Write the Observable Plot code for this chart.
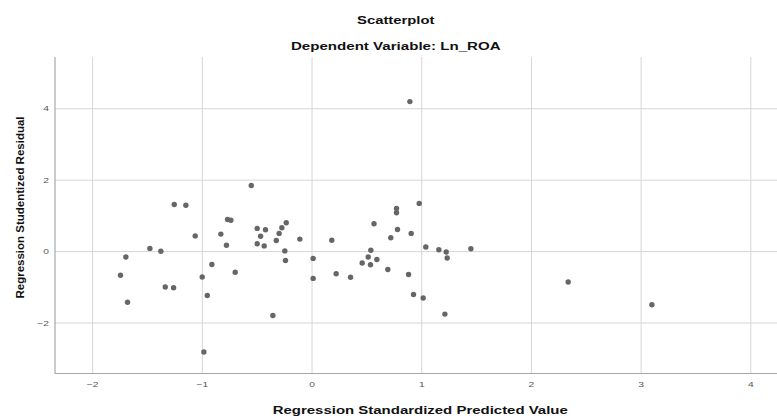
<!DOCTYPE html>
<html>
<head>
<meta charset="utf-8">
<script src="https://cdn.jsdelivr.net/npm/d3@7"></script>
<script src="https://cdn.jsdelivr.net/npm/@observablehq/plot@0.6"></script>
<style>
  html, body { margin: 0; padding: 0; background: #fff; }
  #chart { width: 777px; height: 418px; }
</style>
</head>
<body>
<div id="chart"></div>
<script>
// Regression Standardized Predicted Value
const predicted = [
  -0.554, -1.256, -1.150, -0.770, -0.740, -0.500, -0.424, -1.065, -0.831, -0.780,
  -0.469, -0.500, -0.436, -0.326, -1.478, -1.378, -1.697, -1.746, -0.913, -1.001,
  -0.700, -1.338, -1.262, -0.955, -1.682, -0.357, -0.986, -0.235, -0.275, -0.300,
  -0.111, -0.248, -0.242, 0.010, 0.010, 0.180, 0.220, 0.351, 0.565, 0.536,
  0.512, 0.457, 0.533, 0.591, 0.892, 0.977, 0.770, 0.770, 0.779, 0.904,
  0.718, 1.037, 1.156, 1.223, 1.232, 1.448, 0.691, 0.880, 0.925, 1.013,
  1.211, 2.335, 3.098
];
// Regression Studentized Residual
const residual = [
  1.85, 1.32, 1.30, 0.90, 0.88, 0.65, 0.61, 0.44, 0.49, 0.18,
  0.43, 0.22, 0.16, 0.31, 0.09, 0.01, -0.15, -0.66, -0.36, -0.71,
  -0.58, -0.99, -1.01, -1.23, -1.42, -1.79, -2.81, 0.81, 0.67, 0.51,
  0.35, 0.02, -0.25, -0.19, -0.75, 0.32, -0.62, -0.72, 0.78, 0.04,
  -0.15, -0.32, -0.37, -0.22, 4.20, 1.35, 1.21, 1.09, 0.62, 0.51,
  0.39, 0.13, 0.05, -0.01, -0.18, 0.08, -0.50, -0.64, -1.20, -1.30,
  -1.75, -0.85, -1.49
];
const xTicks = [-2, -1, 0, 1, 2, 3, 4];
const yTicks = [-2, 0, 2, 4];
const xDomain = [-2.343, 4.243];
const yDomain = [-3.413, 5.435];
const titleText = ["Scatterplot"];
const subtitleText = ["Dependent Variable: Ln_ROA"];
const xLabel = ["Regression Standardized Predicted Value"];
const yLabel = ["Regression Studentized Residual"];

const points = predicted.map((p, i) => ({p, r: residual[i]}));

const chart = Plot.plot({
  width: 777,
  height: 418,
  marginTop: 57,
  marginBottom: 45,
  marginLeft: 54.5,
  marginRight: 0,
  style: { background: "#fff", fontFamily: "'Liberation Sans', Arial, sans-serif" },
  x: { domain: xDomain },
  y: { domain: yDomain },
  marks: [
    Plot.gridX(xTicks, { stroke: "#d6d6d6", strokeOpacity: 1, strokeWidth: 1 }),
    Plot.gridY(yTicks, { stroke: "#d6d6d6", strokeOpacity: 1, strokeWidth: 1 }),
    Plot.ruleX([xDomain[0]], { stroke: "#a8a8a8", strokeWidth: 1.2 }),
    Plot.ruleY([yDomain[0]], { stroke: "#a8a8a8", strokeWidth: 1.2 }),
    Plot.axisX(xTicks, { tickSize: 0, tickPadding: 8, fontSize: 8, color: "#555", label: null }),
    Plot.axisY(yTicks, { tickSize: 0, tickPadding: 6, fontSize: 8, color: "#555", label: null }),
    Plot.dot(points, { x: "p", y: "r", r: 2.7, fill: "#666", stroke: "none" }),
    Plot.text(titleText, { frameAnchor: "top", dx: -20.5, dy: -37, fontSize: 11.6, fontWeight: "bold", fill: "#111", lineAnchor: "middle", textAnchor: "middle" }),
    Plot.text(subtitleText, { frameAnchor: "top", dx: -20.5, dy: -11, fontSize: 11.8, fontWeight: "bold", fill: "#111", lineAnchor: "middle", textAnchor: "middle" }),
    Plot.text(xLabel, { frameAnchor: "bottom", dx: 4, dy: 37, fontSize: 11.7, fontWeight: "bold", fill: "#111", lineAnchor: "middle", textAnchor: "middle" }),
    Plot.text(yLabel, { frameAnchor: "left", dx: -34.5, dy: -8, rotate: -90, fontSize: 11.5, fontWeight: "bold", fill: "#111", lineAnchor: "middle", textAnchor: "middle" })
  ]
});

// The reference image is stretched horizontally (~1.28x); mimic that on horizontal text.
d3.select(chart).selectAll("text").each(function () {
  const el = d3.select(this);
  const t = el.attr("transform");
  if (!t || !t.includes("translate") || t.includes("rotate")) return;
  if (el.text() === yLabel[0]) return;
  el.attr("transform", `${t} scale(1.28,1)`);
});

document.getElementById("chart").appendChild(chart);
</script>
</body>
</html>
